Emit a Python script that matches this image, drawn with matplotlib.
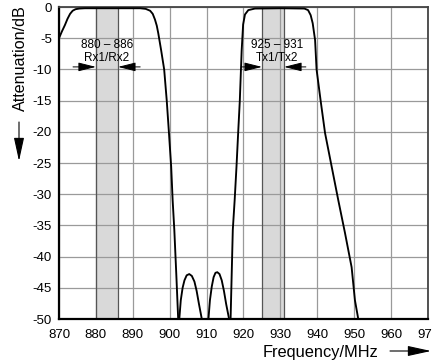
import matplotlib
matplotlib.use("Agg")
import matplotlib.pyplot as plt

plt.rcParams['font.family'] = ['Liberation Sans', 'DejaVu Sans']

# Rx (880-886 MHz) filter response
rx_freq = [870.0, 870.8, 871.6, 872.3, 873.0, 873.7, 874.5, 875.5, 877.0, 885.0, 892.0,
           893.5, 894.7, 895.4, 896.0, 896.5, 896.9, 897.7, 898.5, 899.2, 899.8, 900.4,
           900.8, 901.25, 901.8, 902.3]
rx_att = [-5.0, -3.9, -2.9, -1.9, -1.1, -0.6, -0.35, -0.25, -0.2, -0.2, -0.2,
          -0.3, -0.6, -1.1, -2.0, -3.0, -4.2, -7.0, -10.0, -15.0, -20.2, -25.6,
          -31.0, -35.7, -43.0, -50.0]

# stopband lobes between the two passbands
lobe1_freq = [902.6, 903.0, 903.5, 904.0, 904.6, 905.3, 906.0, 906.7, 907.3, 907.9, 908.7]
lobe1_att = [-50.0, -47.0, -45.0, -43.8, -43.0, -42.8, -43.1, -44.0, -45.5, -47.5, -50.0]
lobe2_freq = [910.5, 910.9, 911.4, 911.9, 912.4, 912.9, 913.5, 914.1, 914.7, 915.3, 916.1]
lobe2_att = [-50.0, -47.0, -44.8, -43.3, -42.6, -42.5, -42.8, -43.8, -45.5, -47.6, -50.0]

# Tx (925-931 MHz) filter response
tx_freq = [916.5, 917.1, 917.6, 918.1, 918.55, 919.0, 919.5, 919.9, 920.4, 921.3, 923.1,
           930.0, 936.5, 937.5, 938.2, 938.75, 939.4, 939.8, 940.9, 942.1, 943.9, 945.7,
           947.5, 949.3, 950.2, 951.1]
tx_att = [-50.0, -35.7, -31.0, -25.6, -20.2, -15.0, -7.0, -2.8, -1.2, -0.5, -0.25,
          -0.2, -0.25, -0.5, -1.3, -2.6, -5.3, -10.0, -15.0, -20.2, -25.6, -31.0,
          -36.2, -41.7, -47.0, -50.0]

bands = [(880, 886, "880 – 886", "Rx1/Rx2", 873.8, 892.0, 883.0),
         (925, 931, "925 – 931", "Tx1/Tx2", 919.4, 936.9, 929.0)]

x_ticks = list(range(870, 971, 10))
y_ticks = list(range(-50, 1, 5))

fig = plt.figure(figsize=(4.32, 3.63), dpi=100)
ax = fig.add_axes([59 / 432, 1 - 319 / 363, 369 / 432, 312 / 363])

ax.set_xlim(870, 970)
ax.set_ylim(-50, 0)
ax.set_xticks(x_ticks)
ax.set_yticks(y_ticks)
ax.set_xticklabels([str(t) for t in x_ticks])
ax.set_yticklabels([str(t) for t in y_ticks])
ax.tick_params(length=0, labelsize=9.5, colors='black')
ax.tick_params(axis='x', pad=7)
ax.tick_params(axis='y', pad=5)
ax.grid(True, color='#9a9a9a', linewidth=0.9)

for lo, hi, label1, label2, tail_l, tail_r, xc in bands:
    ax.axvspan(lo, hi, color='#d9d9d9', zorder=0.5, lw=0)
    ax.axvline(lo, color='#555555', lw=0.9, zorder=1.6)
    ax.axvline(hi, color='#555555', lw=0.9, zorder=1.6)
    ax.text(xc, -6.1, label1, ha='center', va='center', fontsize=8.5)
    ax.text(xc, -8.2, label2, ha='center', va='center', fontsize=8.5)
    arrow = dict(arrowstyle='-|>,head_length=1.2,head_width=0.3', color='black',
                 lw=0.7, mutation_scale=9, shrinkA=0, shrinkB=0)
    ax.annotate('', xy=(lo, -9.6), xytext=(tail_l, -9.6), arrowprops=arrow, zorder=4)
    ax.annotate('', xy=(hi, -9.6), xytext=(tail_r, -9.6), arrowprops=arrow, zorder=4)

for fx, fy in [(rx_freq, rx_att), (lobe1_freq, lobe1_att),
               (lobe2_freq, lobe2_att), (tx_freq, tx_att)]:
    ax.plot(fx, fy, color='black', lw=1.35, zorder=3, solid_joinstyle='round')

for side in ('left', 'bottom'):
    ax.spines[side].set_color('black')
    ax.spines[side].set_linewidth(1.6)
for side in ('top', 'right'):
    ax.spines[side].set_color('#444444')
    ax.spines[side].set_linewidth(1.3)

# axis titles with direction arrows
fig.text(20 / 432, 1 - 58 / 363, "Attenuation/dB", rotation=90,
         ha='center', va='center', fontsize=11.6)
fig.text(321 / 432, 1 - 352 / 363, "Frequency/MHz", ha='center', va='center', fontsize=11.8)
axis_arrow = dict(arrowstyle='-|>,head_length=1.6,head_width=0.35', color='black',
                  lw=0.8, mutation_scale=9, shrinkA=0, shrinkB=0)
fig.add_artist(matplotlib.patches.FancyArrowPatch(
    (19 / 432, 1 - 122 / 363), (19 / 432, 1 - 161 / 363),
    transform=fig.transFigure, **axis_arrow))
fig.add_artist(matplotlib.patches.FancyArrowPatch(
    (390 / 432, 1 - 351 / 363), (431 / 432, 1 - 351 / 363),
    transform=fig.transFigure, **axis_arrow))

fig.savefig("out.png", dpi=100)
